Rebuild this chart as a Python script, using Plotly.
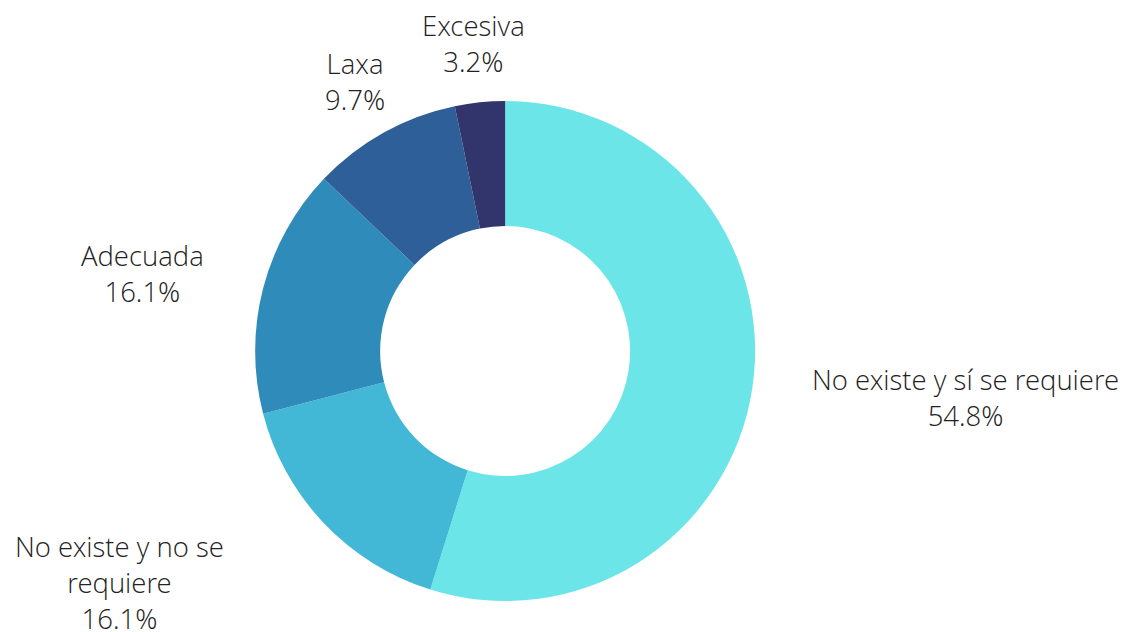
import math
import plotly.graph_objects as go

labels = ["No existe y sí se requiere", "No existe y no se requiere", "Adecuada", "Laxa", "Excesiva"]
display_labels = ["No existe y sí se requiere", "No existe y no se<br>requiere", "Adecuada", "Laxa", "Excesiva"]
counts = [17, 5, 5, 3, 1]
colors = ["#6be5e8", "#42b7d6", "#2e8bba", "#2e5f98", "#32356b"]

W, H = 1126, 632
dom_x = [0.193, 0.690]
dom_y = [0.0617, 0.8528]
# label nudges (pixels) for labels pushed by the chart edge
label_shift = {"No existe y no se requiere": (-55, -19)}

fig = go.Figure(go.Pie(
    labels=labels,
    values=counts,
    hole=0.5,
    sort=False,
    direction="clockwise",
    rotation=0,
    marker=dict(colors=colors, line=dict(width=0)),
    textinfo="none",
    hoverinfo="label+percent",
    domain=dict(x=dom_x, y=dom_y),
    showlegend=False,
))

# label placement derived from slice mid-angles
cx = (dom_x[0] + dom_x[1]) / 2 * W
cy = (dom_y[0] + dom_y[1]) / 2 * H
R = min((dom_x[1] - dom_x[0]) * W, (dom_y[1] - dom_y[0]) * H) / 2
total = sum(counts)
cum = 0.0
for name, lab, c in zip(labels, display_labels, counts):
    mid = (cum + c / 2) / total * 2 * math.pi
    cum += c
    dx, dy = math.sin(mid), -math.cos(mid)
    r = 1.235 * R
    x = cx + dx * r
    y = cy - dy * r
    if dx > 0.5:
        xa = "left"
    elif dx < -0.5:
        xa = "right"
    else:
        xa = "center"
    pct = c / total * 100
    sx, sy = label_shift.get(name, (0, 0))
    fig.add_annotation(
        x=x / W, y=y / H, xref="paper", yref="paper",
        text=f"{lab}<br>{pct:.1f}%",
        showarrow=False, xanchor=xa, yanchor="middle", align="center",
        xshift=sx, yshift=sy,
        font=dict(family="Open Sans Light, Open Sans", size=27.5, color="#222222", weight=300),
    )

fig.update_layout(
    width=W, height=H,
    margin=dict(l=0, r=0, t=0, b=0),
    paper_bgcolor="white",
    plot_bgcolor="white",
)
fig.write_html("out.html")
